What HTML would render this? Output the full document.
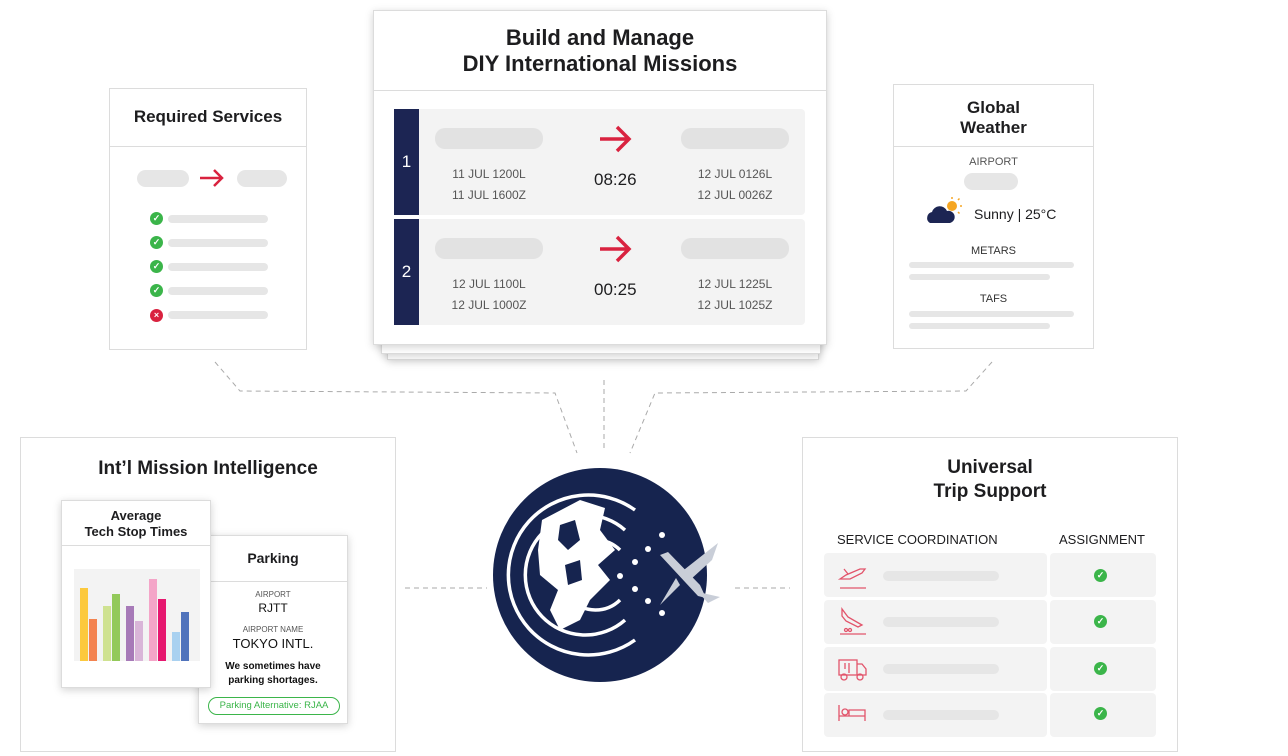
<!DOCTYPE html>
<html><head><meta charset="utf-8"><style>
*{box-sizing:border-box;margin:0;padding:0}
body{width:1288px;height:756px;background:#fff;position:relative;overflow:hidden;font-family:"Liberation Sans",sans-serif;color:#1d1d1f}
.a{position:absolute}
.card{position:absolute;background:#fff;border:1px solid #dcdcdc}
.sh{box-shadow:0 2px 8px rgba(0,0,0,.18)}
.pill{position:absolute;background:#e6e6e6;border-radius:10px}
.t{position:absolute;text-align:center;font-weight:bold}
.hl{position:absolute;left:0;right:0;height:1px;background:#dcdcdc}
.ok{position:absolute;width:13px;height:13px;border-radius:50%;background:#3bb54a;color:#fff;font-size:9px;line-height:13px;text-align:center;font-weight:bold}
.small{position:absolute;font-size:12px;color:#555;text-align:center}
.row{position:absolute;background:#f3f3f3;border-radius:4px}
</style></head><body>

<svg class="a" style="left:0;top:0" width="1288" height="756">
<g stroke="#aaa" stroke-width="1" stroke-dasharray="5,4" fill="none">
<path d="M215 362 L240 391 L555 393 L577 453"/>
<path d="M604 380 L604 452"/>
<path d="M992 362 L966 391 L655 393 L630 453"/>
<path d="M405 588 L487 588"/>
<path d="M735 588 L790 588"/>
</g>
</svg>

<!-- Required Services -->
<div class="card" style="left:109px;top:88px;width:198px;height:262px">
 <div class="t" style="left:0;right:0;top:18px;font-size:17px">Required Services</div>
 <div class="hl" style="top:57px"></div>
 <div class="pill" style="left:27px;top:81px;width:52px;height:17px"></div>
 <svg class="a" style="left:89px;top:79px" width="26" height="20" fill="none" stroke="#d9223f" stroke-width="2.5"><path d="M1 10H23M15 2L23 10L15 18"/></svg>
 <div class="pill" style="left:127px;top:81px;width:50px;height:17px"></div>
 <div class="ok" style="left:40px;top:123px">✓</div><div class="pill" style="left:58px;top:126px;width:100px;height:8px"></div>
 <div class="ok" style="left:40px;top:147px">✓</div><div class="pill" style="left:58px;top:150px;width:100px;height:8px"></div>
 <div class="ok" style="left:40px;top:171px">✓</div><div class="pill" style="left:58px;top:174px;width:100px;height:8px"></div>
 <div class="ok" style="left:40px;top:195px">✓</div><div class="pill" style="left:58px;top:198px;width:100px;height:8px"></div>
 <div class="ok" style="left:40px;top:220px;background:#d9223f">×</div><div class="pill" style="left:58px;top:222px;width:100px;height:8px"></div>
</div>

<!-- Main card stack -->
<div class="card sh" style="left:387px;top:22px;width:432px;height:338px"></div>
<div class="card sh" style="left:381px;top:16px;width:440px;height:338px"></div>
<div class="card sh" style="left:373px;top:10px;width:454px;height:335px">
 <div class="t" style="left:0;right:0;top:14px;font-size:22px;line-height:26px">Build and Manage<br>DIY International Missions</div>
 <div class="hl" style="top:79px"></div>
 <div class="row" style="left:20px;top:98px;width:411px;height:106px"></div>
 <div class="a" style="left:20px;top:98px;width:25px;height:106px;background:#1c2553;color:#fff;font-size:17px;text-align:center;line-height:106px">1</div>
 <div class="pill" style="left:61px;top:117px;width:108px;height:21px;background:#e2e2e2"></div>
 <div class="small" style="left:61px;top:153px;width:108px;line-height:21px">11 JUL 1200L<br>11 JUL 1600Z</div>
 <svg class="a" style="left:225px;top:114px" width="34" height="28" fill="none" stroke="#d9223f" stroke-width="3.5"><path d="M1 14H30M18 2L30 14L18 26"/></svg>
 <div class="a" style="left:220px;top:159px;font-size:17px">08:26</div>
 <div class="pill" style="left:307px;top:117px;width:108px;height:21px;background:#e2e2e2"></div>
 <div class="small" style="left:307px;top:153px;width:108px;line-height:21px">12 JUL 0126L<br>12 JUL 0026Z</div>

 <div class="row" style="left:20px;top:208px;width:411px;height:106px"></div>
 <div class="a" style="left:20px;top:208px;width:25px;height:106px;background:#1c2553;color:#fff;font-size:17px;text-align:center;line-height:106px">2</div>
 <div class="pill" style="left:61px;top:227px;width:108px;height:21px;background:#e2e2e2"></div>
 <div class="small" style="left:61px;top:263px;width:108px;line-height:21px">12 JUL 1100L<br>12 JUL 1000Z</div>
 <svg class="a" style="left:225px;top:224px" width="34" height="28" fill="none" stroke="#d9223f" stroke-width="3.5"><path d="M1 14H30M18 2L30 14L18 26"/></svg>
 <div class="a" style="left:220px;top:269px;font-size:17px">00:25</div>
 <div class="pill" style="left:307px;top:227px;width:108px;height:21px;background:#e2e2e2"></div>
 <div class="small" style="left:307px;top:263px;width:108px;line-height:21px">12 JUL 1225L<br>12 JUL 1025Z</div>
</div>

<!-- Global Weather -->
<div class="card" style="left:893px;top:84px;width:201px;height:265px">
 <div class="t" style="left:0;right:0;top:13px;font-size:17px;line-height:20px">Global<br>Weather</div>
 <div class="hl" style="top:61px"></div>
 <div class="small" style="left:0;right:0;top:71px;font-size:11px">AIRPORT</div>
 <div class="pill" style="left:70px;top:88px;width:54px;height:17px"></div>
 <svg class="a" style="left:30px;top:112px" width="40" height="30"><circle cx="28" cy="9" r="5" fill="#f5a623"/><g stroke="#f5a623" stroke-width="1.5"><path d="M28 0v2M36 9h2M34 3l1.5-1.5M34 15l1.5 1.5"/></g><path d="M6 26a6 6 0 0 1 2-11a8 8 0 0 1 15-1a6 6 0 0 1 3 12z" fill="#1c2553"/></svg>
 <div class="a" style="left:80px;top:121px;font-size:14px">Sunny | 25°C</div>
 <div class="small" style="left:0;right:0;top:160px;font-size:11px;color:#333">METARS</div>
 <div class="pill" style="left:15px;top:177px;width:165px;height:6px"></div>
 <div class="pill" style="left:15px;top:189px;width:141px;height:6px"></div>
 <div class="small" style="left:0;right:0;top:208px;font-size:11px;color:#333">TAFS</div>
 <div class="pill" style="left:15px;top:226px;width:165px;height:6px"></div>
 <div class="pill" style="left:15px;top:238px;width:141px;height:6px"></div>
</div>

<!-- Int'l Mission Intelligence -->
<div class="card" style="left:20px;top:437px;width:376px;height:315px">
 <div class="t" style="left:0;right:0;top:20px;font-size:19px">Int’l Mission Intelligence</div>
</div>
<div class="card sh" style="left:198px;top:535px;width:150px;height:189px">
 <div class="t" style="left:0;right:0;top:14px;font-size:14px">Parking</div>
 <div class="hl" style="top:45px"></div>
 <div class="small" style="left:0;right:0;top:54px;font-size:8px">AIRPORT</div>
 <div class="small" style="left:0;right:0;top:65px;font-size:12px;color:#111">RJTT</div>
 <div class="small" style="left:0;right:0;top:89px;font-size:8px">AIRPORT NAME</div>
 <div class="small" style="left:0;right:0;top:100px;font-size:13px;color:#111">TOKYO INTL.</div>
 <div class="small" style="left:0;right:0;top:124px;font-size:10px;color:#111;font-weight:bold;line-height:14px">We sometimes have<br>parking shortages.</div>
 <div class="a" style="left:9px;top:161px;width:132px;height:18px;border:1px solid #3bb54a;border-radius:9px;color:#3bb54a;font-size:9.5px;text-align:center;line-height:16px">Parking Alternative: RJAA</div>
</div>
<div class="card sh" style="left:61px;top:500px;width:150px;height:188px">
 <div class="t" style="left:0;right:0;top:7px;font-size:13px;line-height:16px">Average<br>Tech Stop Times</div>
 <div class="hl" style="top:44px"></div>
 <svg class="a" style="left:12px;top:68px" width="126" height="92">
  <rect width="126" height="92" fill="#f3f3f3"/>
  <rect x="6" y="19" width="8" height="73" fill="#fcc93d"/><rect x="15" y="50" width="8" height="42" fill="#f38350"/>
  <rect x="29" y="37" width="8" height="55" fill="#cfe291"/><rect x="38" y="25" width="8" height="67" fill="#93c95a"/>
  <rect x="52" y="37" width="8" height="55" fill="#a77ab8"/><rect x="61" y="52" width="8" height="40" fill="#d9b5d8"/>
  <rect x="75" y="10" width="8" height="82" fill="#f4a5c8"/><rect x="84" y="30" width="8" height="62" fill="#e6176f"/>
  <rect x="98" y="63" width="8" height="29" fill="#a9d1f0"/><rect x="107" y="43" width="8" height="49" fill="#5073bc"/>
 </svg>
</div>

<!-- Universal Trip Support -->
<div class="card" style="left:802px;top:437px;width:376px;height:315px">
 <div class="t" style="left:0;right:0;top:18px;font-size:19px;line-height:24px">Universal<br>Trip Support</div>
 <div class="a" style="left:34px;top:94px;font-size:13px">SERVICE COORDINATION</div>
 <div class="a" style="left:256px;top:94px;font-size:13px">ASSIGNMENT</div>
</div>
<div class="a" style="left:824px;top:553px">
 <div class="row" style="left:0;top:0;width:223px;height:44px"></div><div class="row" style="left:226px;top:0;width:106px;height:44px"></div>
 <div class="row" style="left:0;top:47px;width:223px;height:44px"></div><div class="row" style="left:226px;top:47px;width:106px;height:44px"></div>
 <div class="row" style="left:0;top:94px;width:223px;height:44px"></div><div class="row" style="left:226px;top:94px;width:106px;height:44px"></div>
 <div class="row" style="left:0;top:140px;width:223px;height:44px"></div><div class="row" style="left:226px;top:140px;width:106px;height:44px"></div>
 <div class="pill" style="left:59px;top:18px;width:116px;height:10px"></div>
 <div class="pill" style="left:59px;top:64px;width:116px;height:10px"></div>
 <div class="pill" style="left:59px;top:111px;width:116px;height:10px"></div>
 <div class="pill" style="left:59px;top:157px;width:116px;height:10px"></div>
 <div class="ok" style="left:270px;top:16px">✓</div>
 <div class="ok" style="left:270px;top:62px">✓</div>
 <div class="ok" style="left:270px;top:109px">✓</div>
 <div class="ok" style="left:270px;top:154px">✓</div>
 <svg class="a" style="left:14px;top:10px" width="30" height="180" fill="none" stroke="#e2546b" stroke-width="1.3">
  <path d="M2 16 L8 12 L22 6 L27 6 L24 10 L12 16 Z M10 11 L6 6"/><path d="M2 25h26"/>
  <path d="M4 53 L4 46 L10 54 L24 62 L20 64 L8 58 Z"/><circle cx="8" cy="67" r="1.5"/><circle cx="12" cy="67" r="1.5"/><path d="M2 71h26"/>
  <rect x="1" y="97" width="18" height="15"/><path d="M19 101h5l4 5v6h-9"/><circle cx="6" cy="114" r="3"/><circle cx="22" cy="114" r="3"/><path d="M7 100v6M11 100v10"/>
  <path d="M1 142v16M1 153h26v5M27 153v-6h-16v6"/><circle cx="7" cy="149" r="3"/>
 </svg>
</div>

<!-- Globe -->
<svg class="a" style="left:480px;top:460px" width="260" height="230">
 <circle cx="120" cy="115" r="107" fill="#16244f"/>
 <g fill="none" stroke="#fff" stroke-width="3.5">
  <path d="M155 50 A80 80 0 1 0 155 180"/>
  <path d="M145 70 A60 60 0 1 0 145 160"/>
  <path d="M140 90 A35 35 0 1 0 140 140"/>
 </g>
 <path d="M62 60 L100 40 L125 48 L120 70 L135 90 L118 105 L130 120 L110 140 L100 160 L80 170 L70 150 L78 130 L60 115 L58 90 Z" fill="#fff"/>
 <path d="M80 65 L95 60 L100 80 L88 90 L78 80 Z M85 105 L100 100 L102 120 L88 125 Z" fill="#16244f"/>
 <g fill="#fff"><circle cx="182" cy="75" r="3"/><circle cx="168" cy="89" r="3"/><circle cx="155" cy="102" r="3"/><circle cx="140" cy="116" r="3"/><circle cx="155" cy="129" r="3"/><circle cx="168" cy="141" r="3"/><circle cx="182" cy="153" r="3"/></g>
 <g fill="#c9ced8">
  <path d="M180 95 L188 92 L220 125 L226 138 L218 136 Z"/>
  <path d="M200 113 L238 83 L232 100 L210 120 Z"/>
  <path d="M196 118 L180 145 L200 125 Z"/>
  <path d="M218 132 L240 137 L228 143 Z"/>
 </g>
</svg>

</body></html>
